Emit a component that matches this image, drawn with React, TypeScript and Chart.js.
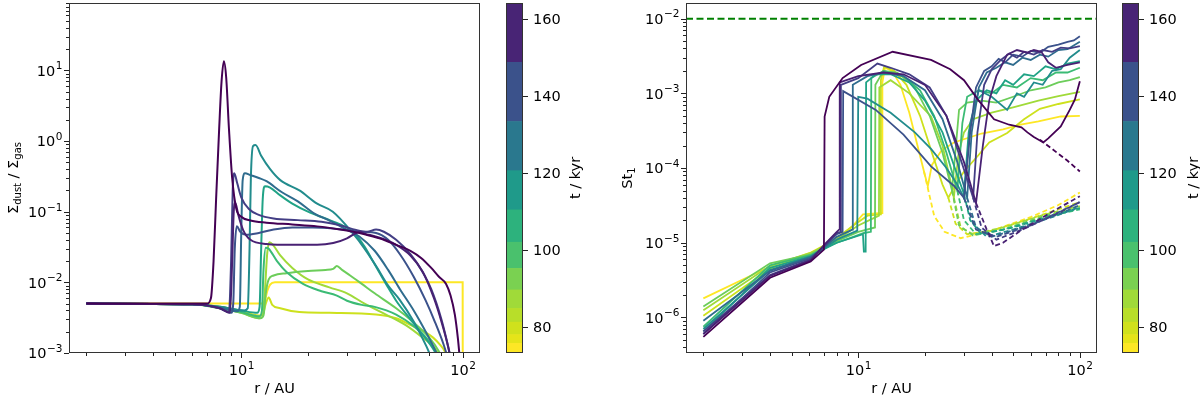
import React, { useEffect, useRef } from 'react';
import { Chart, registerables } from 'chart.js';

Chart.register(...registerables);

type P = [number, number][];

// snapshot times (kyr), oldest first -> one curve each
const times = [74.5, 77, 79.5, 83, 87, 92.5, 98.5, 106, 115.5, 127, 141, 156.5];
const curveColors = ['#fde725', '#cde11d', '#a0da39', '#6ccd5a', '#3bbb75', '#20a386', '#228c8d', '#2f6c8e', '#3b528b', '#433e85', '#482173', '#440154'];

// discrete colour bar
const cbBounds = [73.2, 75.7, 78.0, 81.2, 84.8, 89.6, 95.2, 102.0, 110.4, 120.6, 133.4, 148.8, 164.2];
const cbColors = ['#fde725', '#e5e419', '#d0e11c', '#b8de29', '#a0da39', '#7ad151', '#4ac16d', '#2db27d', '#1f9a8a', '#2a788e', '#3b528b', '#482475'];
const cbTicks = [80, 100, 120, 140, 160];

// axes
const rLim = [1.67, 119.5];
const dustLim = [1e-3, 90];
const stLim = [3.34e-7, 0.0162];
const rTicks = [10, 100];
const dustTicks = [1e-3, 1e-2, 1e-1, 1, 10];
const stTicks = [1e-6, 1e-5, 1e-4, 1e-3, 1e-2];
const stCritical = 1e-2;

// ---- left panel: Sigma_dust / Sigma_gas vs r ----
const dustA: P = [[2, 5e-3], [12.4, 5e-3], [12.8, 5.6e-3], [13.1, 7.5e-3], [13.5, 9.3e-3], [14.2, 1e-2], [99.8, 1e-2], [100, 1e-5]];
const dustB: P = [[2, 5e-3], [6, 4.9e-3], [8, 4.5e-3], [10, 3.9e-3], [12, 3.4e-3], [12.5, 3.5e-3], [12.9, 5e-3], [13.3, 6.1e-3], [13.8, 4.8e-3], [15, 4.3e-3], [18.3, 3.8e-3], [25, 3.7e-3], [40.6, 3.5e-3], [50, 3.1e-3], [59.5, 2.4e-3], [67, 2e-3], [73.4, 1.65e-3], [79, 1.3e-3], [83, 1.05e-3], [87, 7e-4]];
const dustC: P = [[2, 5e-3], [6, 4.9e-3], [8, 4.4e-3], [10, 3.7e-3], [12.1, 3.1e-3], [12.5, 3.3e-3], [12.8, 8e-3], [13.1, 0.026], [13.4, 0.037], [13.9, 0.034], [15, 0.024], [17, 0.016], [20, 0.011], [25, 8.5e-3], [30, 7e-3], [36, 5e-3], [45, 3.5e-3], [55, 2.5e-3], [65, 1.7e-3], [75, 1.15e-3], [80, 8e-4]];
const dustD: P = [[2, 5e-3], [6, 4.9e-3], [8, 4.3e-3], [10, 3.7e-3], [12.2, 3.1e-3], [12.6, 3.4e-3], [12.9, 7e-3], [13.3, 0.011], [14, 0.0125], [16, 0.0135], [20, 0.0145], [24, 0.015], [26, 0.0155], [27, 0.017], [28.5, 0.015], [31, 0.0125], [35, 9.5e-3], [40, 7e-3], [50, 4.3e-3], [60, 2.7e-3], [70, 1.7e-3], [78, 1.05e-3], [82, 7.5e-4]];
const dustE: P = [[2, 5e-3], [6, 4.9e-3], [8, 4.4e-3], [10, 3.8e-3], [12.1, 3.3e-3], [12.4, 4e-3], [12.6, 0.015], [12.9, 0.031], [13.3, 0.03], [14.5, 0.02], [16, 0.014], [19, 9.5e-3], [23, 7.5e-3], [27, 6.5e-3], [30, 5.5e-3], [35, 4.8e-3], [40, 4.5e-3], [50, 3.5e-3], [60, 2.4e-3], [70, 1.5e-3], [76, 1e-3], [80, 7e-4]];
const dustF: P = [[2, 5e-3], [6, 4.9e-3], [8, 4.5e-3], [10, 4e-3], [11.8, 3.7e-3], [12.1, 4.5e-3], [12.3, 0.03], [12.5, 0.15], [12.8, 0.23], [13.5, 0.22], [15, 0.17], [17, 0.13], [20, 0.1], [24, 0.08], [28, 0.066], [32, 0.052], [36, 0.032], [40, 0.018], [45, 9.5e-3], [50, 5.5e-3], [58, 3e-3], [66, 1.8e-3], [74, 1.1e-3], [78, 8e-4]];
const dustG: P = [[2, 5e-3], [6, 4.9e-3], [8, 4.5e-3], [10.3, 4e-3], [10.7, 4.3e-3], [10.9, 0.03], [11.05, 0.3], [11.3, 0.85], [11.6, 0.88], [12.3, 0.62], [13.5, 0.4], [15, 0.28], [18.3, 0.2], [22, 0.13], [25.9, 0.1], [31.8, 0.05], [36, 0.03], [40.6, 0.017], [46, 0.009], [51.8, 5.7e-3], [60, 2.8e-3], [68.5, 1.24e-3], [74, 7e-4]];
const dustH: P = [[2, 5e-3], [6, 4.9e-3], [8, 4.4e-3], [9.6, 3.9e-3], [9.85, 4.5e-3], [10.0, 0.05], [10.15, 0.28], [10.4, 0.35], [11, 0.33], [12, 0.3], [13, 0.27], [15.2, 0.19], [18, 0.14], [21.4, 0.094], [25, 0.075], [30.2, 0.055], [34, 0.045], [40, 0.028], [46, 0.015], [52, 8e-3], [60, 4e-3], [68, 2e-3], [75, 1.1e-3], [80, 7e-4]];
const dustI: P = [[2, 5e-3], [6, 4.9e-3], [8, 4.3e-3], [9.0, 3.7e-3], [9.2, 5e-3], [9.35, 0.03], [9.55, 0.062], [9.9, 0.052], [10.5, 0.047], [12, 0.05], [14, 0.056], [17, 0.06], [21, 0.06], [26, 0.058], [30, 0.055], [35, 0.052], [40.6, 0.05], [46, 0.04], [52, 0.025], [60, 0.012], [68, 5.5e-3], [75, 2.7e-3], [82, 1.3e-3], [86, 8e-4]];
const dustJ: P = [[2, 5e-3], [6, 4.9e-3], [8, 4.3e-3], [8.8, 3.8e-3], [9.0, 0.02], [9.15, 0.2], [9.3, 0.35], [9.6, 0.25], [10, 0.16], [10.8, 0.11], [12, 0.09], [14, 0.08], [18, 0.076], [23, 0.072], [28, 0.064], [33, 0.055], [37, 0.052], [40.6, 0.056], [44, 0.052], [50, 0.04], [58, 0.025], [65, 0.015], [72, 8e-3], [80, 3e-3], [86, 1.2e-3], [90, 6e-4]];
const dustK: P = [[2, 5e-3], [6, 4.9e-3], [8, 4.3e-3], [8.9, 3.7e-3], [9.1, 0.02], [9.25, 0.1], [9.4, 0.134], [9.7, 0.09], [10.2, 0.055], [11, 0.04], [13, 0.035], [17, 0.034], [22, 0.034], [26, 0.036], [30, 0.042], [33, 0.05], [34.3, 0.052], [36, 0.049], [40, 0.045], [45, 0.04], [50, 0.034], [58, 0.024], [66, 0.014], [74, 6e-3], [80, 2.8e-3], [86, 1.2e-3], [90, 6e-4]];
const dustL: P = [[2, 5e-3], [6, 5e-3], [7.0, 5e-3], [7.3, 6e-3], [7.5, 0.02], [7.7, 0.15], [7.95, 1.5], [8.15, 7], [8.35, 13.5], [8.55, 8], [8.8, 1.5], [9.1, 0.3], [9.5, 0.11], [10, 0.085], [11, 0.075], [13, 0.07], [17, 0.066], [22, 0.062], [28, 0.056], [32, 0.052], [36, 0.048], [42, 0.042], [50, 0.034], [58, 0.028], [65, 0.022], [72, 0.016], [78, 0.012], [84, 9.5e-3], [88, 6.5e-3], [92, 3.5e-3], [95, 1.6e-3], [97, 8e-4]];
const dustSeries = [dustA, dustB, dustC, dustD, dustE, dustF, dustG, dustH, dustI, dustJ, dustK, dustL];

// ---- right panel: St_1 vs r (solid) and second branch (dashed) ----
const stA: P = [[2, 1.8e-6], [4, 4.8e-6], [6.1, 7.4e-6], [7, 9.2e-6], [8, 1.15e-5], [9.3, 1.6e-5], [10.5, 2.4e-5], [12.8, 2.5e-5], [12.85, 1.4e-3], [13.2, 2.2e-3], [14.2, 2e-3], [15.5, 1.3e-3], [17, 5.5e-4], [18.5, 2e-4], [19.8, 9e-5], [20.6, 5.7e-5], [21.5, 1.1e-4], [23.7, 1.7e-4], [27, 2.2e-4], [36, 2.9e-4], [45, 3.3e-4], [54, 3.8e-4], [65, 4.2e-4], [82, 4.9e-4], [100, 5e-4]];
const stB: P = [[2, 1.05e-6], [4, 4.5e-6], [6.1, 7.2e-6], [7, 9e-6], [8, 1.15e-5], [9.5, 1.7e-5], [11, 2.3e-5], [12.6, 2.4e-5], [12.65, 1.5e-3], [13.1, 2.3e-3], [14.5, 2e-3], [16.5, 1.3e-3], [19, 5e-4], [21.5, 1.6e-4], [24, 6e-5], [25.5, 4e-5], [27.5, 6e-5], [30, 9e-5], [34.6, 1.45e-4], [39, 2.2e-4], [47, 2.95e-4], [56, 4.5e-4], [66, 6.2e-4], [80, 7.2e-4], [100, 8.3e-4]];
const stC: P = [[2, 1.25e-6], [4, 4.9e-6], [6.1, 7.3e-6], [7, 9e-6], [8, 1.1e-5], [10, 1.7e-5], [12, 2.2e-5], [12.4, 2.3e-5], [12.45, 1.2e-3], [14, 1.5e-3], [17, 1e-3], [21.3, 4.9e-4], [24, 2e-4], [26, 7e-5], [27, 4e-5], [28.3, 1.5e-4], [30, 3e-4], [33, 4.5e-4], [40, 5.5e-4], [50, 6.5e-4], [65, 8e-4], [80, 9.2e-4], [100, 1.05e-3]];
const stD: P = [[2, 1.4e-6], [4, 5.3e-6], [6.1, 7e-6], [7, 8.6e-6], [8, 1.05e-5], [10, 1.4e-5], [11.9, 1.6e-5], [11.95, 1.3e-3], [13, 2e-3], [15, 1.9e-3], [18, 1.2e-3], [21, 5e-4], [24, 1.6e-4], [26.5, 5e-5], [27.5, 1.8e-4], [28.5, 6e-4], [31, 7.5e-4], [36, 8e-4], [42, 7.5e-4], [50, 9e-4], [60, 1.1e-3], [70, 1.2e-3], [80, 1.4e-3], [90, 1.5e-3], [100, 1.65e-3]];
const stE: P = [[2, 7.5e-7], [4, 5e-6], [6.1, 6.8e-6], [7, 8.4e-6], [8, 1e-5], [9.5, 1.2e-5], [10.6, 1.35e-5], [11.4, 1.4e-5], [11.45, 1.6e-3], [13, 2e-3], [16, 1.7e-3], [19, 1.1e-3], [22, 5e-4], [25, 1.6e-4], [28, 5e-5], [29.5, 4e-4], [31, 9e-4], [35, 1.1e-3], [40, 1e-3], [45, 1.3e-3], [52, 1.2e-3], [60, 1.6e-3], [68, 1.5e-3], [78, 1.9e-3], [88, 1.9e-3], [100, 2.2e-3]];
const stF: P = [[2, 6.5e-7], [4, 4.6e-6], [6.1, 6.6e-6], [7, 8.2e-6], [8, 1e-5], [10.5, 1.3e-5], [10.6, 7.6e-6], [10.8, 7.6e-6], [10.85, 1.4e-3], [12, 1.8e-3], [14, 1.8e-3], [17, 1.4e-3], [20, 8e-4], [24, 3e-4], [28, 8e-5], [30, 4.5e-5], [31.5, 3e-4], [34, 8e-4], [38, 1.1e-3], [42, 1e-3], [46, 1.5e-3], [50, 1.3e-3], [56, 1.8e-3], [62, 1.7e-3], [70, 2.3e-3], [78, 2.1e-3], [88, 2.5e-3], [100, 2.7e-3]];
const stG: P = [[2, 7e-7], [4, 4.3e-6], [6.1, 6.5e-6], [7, 8.4e-6], [8, 1.1e-5], [9.9, 1.45e-5], [10.0, 9e-4], [11, 8.5e-4], [14, 5.5e-4], [18, 3e-4], [21.3, 1.8e-4], [25, 1e-4], [28, 6e-5], [30, 4e-5], [32, 4e-4], [35, 1.1e-3], [40, 9e-4], [47, 6e-4], [52, 1e-3], [56, 9e-4], [62, 1.4e-3], [68, 1.3e-3], [75, 2e-3], [82, 2.1e-3], [90, 3e-3], [100, 3.8e-3]];
const stH: P = [[2, 9e-7], [4, 4.2e-6], [6.1, 6.4e-6], [7, 8.6e-6], [8, 1.2e-5], [9.4, 1.5e-5], [9.45, 1.3e-3], [11, 1.7e-3], [13, 1.9e-3], [16, 1.7e-3], [20, 1.1e-3], [24, 4.5e-4], [28, 1.2e-4], [31, 4e-5], [32.5, 3e-4], [35, 1.2e-3], [38, 1.9e-3], [42, 2.2e-3], [46, 2.6e-3], [50, 2.4e-3], [55, 3e-3], [60, 2.8e-3], [66, 3.3e-3], [72, 3.1e-3], [80, 3.8e-3], [88, 3.9e-3], [100, 4.9e-3]];
const stI: P = [[2, 6e-7], [4, 4e-6], [6.1, 6.2e-6], [7, 8.8e-6], [8, 1.3e-5], [8.5, 1.4e-5], [8.55, 1.07e-3], [12, 6e-4], [16, 2.8e-4], [21.3, 1.05e-4], [27, 5.8e-5], [30, 4e-5], [32, 3e-4], [34, 1.2e-3], [37, 2e-3], [40, 2.3e-3], [43, 2.9e-3], [46, 2.6e-3], [50, 3.3e-3], [55, 3.1e-3], [60, 3.7e-3], [66, 3.5e-3], [72, 4.2e-3], [80, 4.5e-3], [88, 4.9e-3], [94, 5.1e-3], [100, 5.8e-3]];
const stJ: P = [[2, 6.5e-7], [4, 3.7e-6], [6.1, 6e-6], [7, 9e-6], [8, 1.35e-5], [8.3, 1.4e-5], [8.35, 1.3e-3], [10, 1.6e-3], [12.2, 2.5e-3], [14, 2.2e-3], [17, 1.8e-3], [21, 1.2e-3], [25, 5e-4], [29, 1.3e-4], [33, 4e-5], [34.5, 3e-4], [37, 1.3e-3], [40, 2.1e-3], [44, 2.8e-3], [48, 3.4e-3], [52, 3e-3], [56, 3.6e-3], [62, 3.3e-3], [68, 3.8e-3], [75, 3.6e-3], [82, 4.1e-3], [90, 4e-3], [100, 4.3e-3]];
const stK: P = [[2, 6e-7], [4, 3.6e-6], [6.1, 5.8e-6], [7, 9.3e-6], [8, 1.4e-5], [8.2, 1.5e-5], [8.25, 1.4e-3], [10, 1.7e-3], [13, 1.9e-3], [16, 1.8e-3], [20, 1.3e-3], [25, 5e-4], [30, 1.2e-4], [34, 3.4e-5], [36.5, 2e-4], [39, 8e-4], [42, 1.7e-3], [47, 3.3e-3], [52, 3.8e-3], [58, 3.5e-3], [62, 3.8e-3], [67, 3.6e-3], [72, 2.6e-3], [78, 2.2e-3], [88, 2.4e-3], [100, 2.6e-3]];
const stL: P = [[2, 5.5e-7], [4, 3.4e-6], [6.1, 5.6e-6], [7, 8.1e-6], [7.05, 4.9e-4], [7.4, 9e-4], [8.5, 1.6e-3], [10.3, 2.4e-3], [14.3, 3.6e-3], [21.3, 2.8e-3], [26, 2.1e-3], [30, 1.5e-3], [34.6, 8.3e-4], [41, 4.5e-4], [48, 3.8e-4], [54.5, 3.5e-4], [58, 3e-4], [62, 2.6e-4], [68.4, 2.2e-4], [72, 2.5e-4], [82, 3.6e-4], [90, 6e-4], [95, 8.3e-4], [100, 1.45e-3]];
const stSeries = [stA, stB, stC, stD, stE, stF, stG, stH, stI, stJ, stK, stL];

const stDashA: P = [[19.8, 9e-5], [22, 2.3e-5], [24.5, 1.4e-5], [29, 1.15e-5], [40, 1.45e-5], [60, 2.2e-5], [80, 3.2e-5], [100, 4.7e-5]];
const stDashB: P = [[25.5, 4e-5], [27.5, 1.8e-5], [31, 1.3e-5], [40, 1.45e-5], [60, 2.1e-5], [100, 3.5e-5]];
const stDashC: P = [[27, 4e-5], [29, 1.6e-5], [33, 1.3e-5], [45, 1.6e-5], [70, 2.4e-5], [100, 3.1e-5]];
const stDashD: P = [[26.5, 5e-5], [28.5, 1.7e-5], [33, 1.25e-5], [45, 1.5e-5], [70, 2.3e-5], [100, 2.9e-5]];
const stDashE: P = [[28, 5e-5], [30, 2e-5], [34, 1.3e-5], [45, 1.5e-5], [70, 2.2e-5], [100, 2.8e-5]];
const stDashF: P = [[30, 4.5e-5], [32, 2e-5], [36, 1.3e-5], [50, 1.6e-5], [75, 2.3e-5], [100, 2.9e-5]];
const stDashG: P = [[30, 4e-5], [33, 1.8e-5], [38, 1.2e-5], [50, 1.5e-5], [75, 2.2e-5], [100, 3e-5]];
const stDashH: P = [[31, 4e-5], [34, 1.6e-5], [40, 1.2e-5], [55, 1.6e-5], [80, 2.4e-5], [100, 3.2e-5]];
const stDashI: P = [[30, 4e-5], [34, 1.5e-5], [42, 1.2e-5], [60, 1.7e-5], [100, 3.5e-5]];
const stDashJ: P = [[33, 4e-5], [36, 1.6e-5], [42, 1.1e-5], [55, 1.5e-5], [80, 2.5e-5], [100, 3.5e-5]];
const stDashK: P = [[34, 3.4e-5], [38, 1.5e-5], [41, 9e-6], [45, 1e-5], [55, 1.5e-5], [75, 2.6e-5], [100, 4.2e-5]];
const stDashL: P = [[66, 2.4e-4], [75, 1.8e-4], [88, 1.25e-4], [100, 9e-5]];
const stDashSeries = [stDashA, stDashB, stDashC, stDashD, stDashE, stDashF, stDashG, stDashH, stDashI, stDashJ, stDashK, stDashL];

// ---------------------------------------------------------------
const FAMILY = '"DejaVu Sans", "Liberation Sans", sans-serif';
const FS = 14.5;
const EXP = 10.5;
Chart.defaults.font.family = FAMILY;

function expText(v: number): string {
  const e = Math.round(Math.log10(v));
  return e < 0 ? '\u2212' + String(-e) : String(e);
}

function logMarks(min: number, max: number): [number, number][] {
  const out: [number, number][] = [];
  for (let e = Math.floor(Math.log10(min)); e <= Math.ceil(Math.log10(max)); e++) {
    for (let m = 1; m <= 9; m++) {
      const v = m * Math.pow(10, e);
      if (v >= min * 0.9999 && v <= max * 1.0001) out.push([v, m === 1 ? 5 : 3]);
    }
  }
  return out;
}

type Part = { t: string; sub?: boolean };
type TitleSpec = { parts: Part[]; x: number; y: number; rot: number };
type MarkSpec = { axis: string; side: 'bottom' | 'left' | 'right'; values: [number, number][] };
type LabelSpec = { axis: string; side: 'bottom' | 'left' | 'right'; values: number[]; pow: boolean };

function drawRich(ctx: CanvasRenderingContext2D, s: TitleSpec) {
  const sub = Math.round(FS * 0.72);
  ctx.save();
  ctx.translate(s.x, s.y);
  ctx.rotate(s.rot);
  ctx.fillStyle = '#000';
  ctx.textAlign = 'left';
  ctx.textBaseline = 'alphabetic';
  const widths = s.parts.map((p) => {
    ctx.font = `${p.sub ? sub : FS}px ${FAMILY}`;
    return ctx.measureText(p.t).width;
  });
  const total = widths.reduce((a, b) => a + b, 0);
  let x = -total / 2;
  s.parts.forEach((p, i) => {
    ctx.font = `${p.sub ? sub : FS}px ${FAMILY}`;
    ctx.fillText(p.t, x, p.sub ? FS * 0.36 + FS * 0.22 : FS * 0.36);
    x += widths[i];
  });
  ctx.restore();
}

function drawLabel(ctx: CanvasRenderingContext2D, v: number, pow: boolean, side: string, p: number, a: any) {
  ctx.fillStyle = '#000';
  ctx.textAlign = 'left';
  ctx.textBaseline = 'alphabetic';
  ctx.font = `${FS}px ${FAMILY}`;
  const base = pow ? '10' : String(v);
  const wb = ctx.measureText(base).width;
  let we = 0;
  let ex = '';
  if (pow) {
    ex = expText(v);
    ctx.font = `${EXP}px ${FAMILY}`;
    we = ctx.measureText(ex).width;
  }
  const w = wb + we;
  let x0 = 0;
  let y0 = 0;
  if (side === 'bottom') {
    x0 = p - w / 2;
    y0 = a.bottom + 22;
  } else if (side === 'left') {
    x0 = a.left - 7 - w;
    y0 = p + 5.3;
  } else {
    x0 = a.right + 10;
    y0 = p + 5.3;
  }
  ctx.font = `${FS}px ${FAMILY}`;
  ctx.fillText(base, x0, y0);
  if (pow) {
    ctx.font = `${EXP}px ${FAMILY}`;
    ctx.fillText(ex, x0 + wb + 0.5, y0 - 6.5);
  }
}

function decor(marks: MarkSpec[], labels: LabelSpec[], titles: TitleSpec[]) {
  return {
    id: 'decor',
    afterDraw(chart: any) {
      const ctx: CanvasRenderingContext2D = chart.ctx;
      const a = chart.chartArea;
      ctx.save();
      ctx.strokeStyle = '#222';
      ctx.lineWidth = 1;
      marks.forEach((m) => {
        const sc = chart.scales[m.axis];
        m.values.forEach(([v, len]) => {
          const p = Math.round(sc.getPixelForValue(v)) + 0.5;
          ctx.beginPath();
          if (m.side === 'bottom') {
            ctx.moveTo(p, a.bottom);
            ctx.lineTo(p, a.bottom + len);
          } else if (m.side === 'left') {
            ctx.moveTo(a.left, p);
            ctx.lineTo(a.left - len, p);
          } else {
            ctx.moveTo(a.right, p);
            ctx.lineTo(a.right + len, p);
          }
          ctx.stroke();
        });
      });
      ctx.strokeStyle = '#333';
      ctx.strokeRect(Math.round(a.left) + 0.5, Math.round(a.top) + 0.5, Math.round(a.right - a.left) - 1, Math.round(a.bottom - a.top) - 1);
      labels.forEach((l) => {
        const sc = chart.scales[l.axis];
        l.values.forEach((v) => drawLabel(ctx, v, l.pow, l.side, sc.getPixelForValue(v), a));
      });
      ctx.restore();
      titles.forEach((t) => drawRich(ctx, t));
    },
  };
}

function logAxis(lim: number[], fit: (s: any) => void) {
  return {
    type: 'logarithmic',
    min: lim[0],
    max: lim[1],
    grid: { display: false, drawTicks: false },
    border: { display: false },
    afterFit: fit,
    ticks: { display: false },
  };
}

function mainConfig(kind: 'dust' | 'st'): any {
  const datasets: any[] = [];
  if (kind === 'dust') {
    dustSeries.forEach((pts, i) => {
      datasets.push({
        label: `${times[i]} kyr`,
        data: pts.map(([x, y]) => ({ x, y })),
        borderColor: curveColors[i],
        borderWidth: 2,
        pointRadius: 0,
        fill: false,
        cubicInterpolationMode: 'monotone',
        order: 20 - i,
      });
    });
  } else {
    stSeries.forEach((pts, i) => {
      datasets.push({
        label: `${times[i]} kyr`,
        data: pts.map(([x, y]) => ({ x, y })),
        borderColor: curveColors[i],
        borderWidth: 1.8,
        pointRadius: 0,
        fill: false,
        tension: 0,
        order: 20 - i,
      });
      datasets.push({
        label: `${times[i]} kyr (2)`,
        data: stDashSeries[i].map(([x, y]) => ({ x, y })),
        borderColor: curveColors[i],
        borderWidth: 1.8,
        borderDash: [5, 3],
        pointRadius: 0,
        fill: false,
        tension: 0,
        order: 20 - i,
      });
    });
    datasets.push({
      label: 'St crit',
      data: [{ x: rLim[0], y: stCritical }, { x: rLim[1], y: stCritical }],
      borderColor: '#008000',
      borderWidth: 2,
      borderDash: [7, 3.5],
      pointRadius: 0,
      fill: false,
      order: 0,
    });
  }
  const isDust = kind === 'dust';
  const yLeft = isDust ? 69 : 86;
  const titles: TitleSpec[] = isDust
    ? [
        { parts: [{ t: 'Σ' }, { t: 'dust', sub: true }, { t: ' / Σ' }, { t: 'gas', sub: true }], x: 13, y: 178, rot: -Math.PI / 2 },
        { parts: [{ t: 'r / AU' }], x: 274.5, y: 388, rot: 0 },
      ]
    : [
        { parts: [{ t: 'St' }, { t: '1', sub: true }], x: 27, y: 178, rot: -Math.PI / 2 },
        { parts: [{ t: 'r / AU' }], x: 291.5, y: 388, rot: 0 },
      ];
  const yLim = isDust ? dustLim : stLim;
  return {
    type: 'line',
    data: { datasets },
    options: {
      animation: false,
      responsive: false,
      events: [],
      layout: { padding: { top: 3, right: isDust ? 20 : 3, left: 0, bottom: 0 } },
      plugins: { legend: { display: false }, tooltip: { enabled: false } },
      scales: {
        x: logAxis(rLim, (s: any) => {
          s.height = 45;
        }),
        y: logAxis(yLim, (s: any) => {
          s.width = yLeft;
        }),
      },
    },
    plugins: [
      decor(
        [
          { axis: 'x', side: 'bottom', values: logMarks(rLim[0], rLim[1]) },
          { axis: 'y', side: 'left', values: logMarks(yLim[0], yLim[1]) },
        ],
        [
          { axis: 'x', side: 'bottom', values: rTicks, pow: true },
          { axis: 'y', side: 'left', values: isDust ? dustTicks : stTicks, pow: true },
        ],
        titles
      ),
    ],
  };
}

function cbConfig(padLeft: number, axisWidth: number, titleX: number): any {
  return {
    type: 'bar',
    data: {
      labels: [''],
      datasets: cbColors.map((c, i) => ({
        label: `${cbBounds[i]}-${cbBounds[i + 1]}`,
        data: [[cbBounds[i], cbBounds[i + 1]]],
        backgroundColor: c,
        borderWidth: 0,
        grouped: false,
        barPercentage: 1,
        categoryPercentage: 1,
      })),
    },
    options: {
      animation: false,
      responsive: false,
      events: [],
      layout: { padding: { top: 3, right: 0, left: padLeft, bottom: 45 } },
      plugins: { legend: { display: false }, tooltip: { enabled: false } },
      scales: {
        x: { display: false },
        y: {
          position: 'right',
          min: cbBounds[0],
          max: cbBounds[cbBounds.length - 1],
          grid: { display: false, drawTicks: false },
          border: { display: false },
          afterFit: (s: any) => {
            s.width = axisWidth;
          },
          ticks: { display: false },
        },
      },
    },
    plugins: [
      decor(
        [{ axis: 'y', side: 'right', values: cbTicks.map((v) => [v, 5] as [number, number]) }],
        [{ axis: 'y', side: 'right', values: cbTicks, pow: false }],
        [{ parts: [{ t: 't / kyr' }], x: titleX, y: 178, rot: -Math.PI / 2 }]
      ),
    ],
  };
}

export default function App() {
  const leftRef = useRef<HTMLCanvasElement>(null);
  const cbLeftRef = useRef<HTMLCanvasElement>(null);
  const rightRef = useRef<HTMLCanvasElement>(null);
  const cbRightRef = useRef<HTMLCanvasElement>(null);

  useEffect(() => {
    document.body.style.margin = '0';
    const charts = [
      new Chart(leftRef.current!, mainConfig('dust')),
      new Chart(cbLeftRef.current!, cbConfig(16, 77, 85)),
      new Chart(rightRef.current!, mainConfig('st')),
      new Chart(cbRightRef.current!, cbConfig(17, 61, 88)),
    ];
    return () => charts.forEach((c) => c.destroy());
  }, []);

  const box = (left: number, width: number): React.CSSProperties => ({ position: 'absolute', left, top: 0, width, height: 398 });
  return (
    <div style={{ position: 'relative', width: 1200, height: 398, background: '#fff', overflow: 'hidden' }}>
      <div style={box(0, 500)}>
        <canvas ref={leftRef} width={500} height={398} style={{ width: 500, height: 398, display: 'block' }} />
      </div>
      <div style={box(490, 110)}>
        <canvas ref={cbLeftRef} width={110} height={398} style={{ width: 110, height: 398, display: 'block' }} />
      </div>
      <div style={box(600, 500)}>
        <canvas ref={rightRef} width={500} height={398} style={{ width: 500, height: 398, display: 'block' }} />
      </div>
      <div style={box(1105, 95)}>
        <canvas ref={cbRightRef} width={95} height={398} style={{ width: 95, height: 398, display: 'block' }} />
      </div>
    </div>
  );
}
